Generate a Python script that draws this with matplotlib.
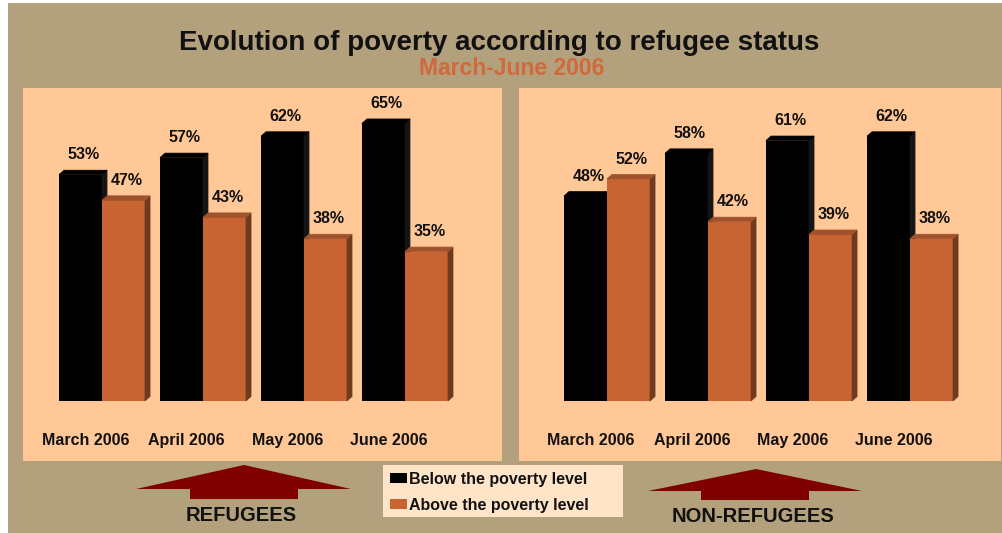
import matplotlib.pyplot as plt
from matplotlib.patches import Polygon, Rectangle

plt.rcParams['font.family'] = ['Liberation Sans', 'DejaVu Sans']
plt.rcParams['font.weight'] = 'bold'

# === Dati ===
months = ["March 2006", "April 2006", "May 2006", "June 2006"]
refugees_below = [53, 57, 62, 65]
refugees_above = [47, 43, 38, 35]
nonref_below = [48, 58, 61, 62]
nonref_above = [52, 42, 39, 38]

TAN = "#B3A07C"
PANEL = "#FFC896"
ORANGE = "#C86432"
ORANGE_TOP = "#A0522D"
ORANGE_SIDE = "#6E3B1E"
DARKRED = "#800000"

W, H = 1002, 533
fig = plt.figure(figsize=(W / 100, H / 100), dpi=100, facecolor="white")


def fx(x):
    return x / W


def fy(y):
    return 1 - y / H


# sfondo marrone chiaro (bordo bianco sopra e a sinistra)
fig.add_artist(Rectangle((fx(8), 0), 1, fy(3), transform=fig.transFigure,
                         facecolor=TAN, edgecolor="none", zorder=0))

fig.text(fx(499), fy(50), "Evolution of poverty according to refugee status",
         ha="center", va="baseline", fontsize=20, color="#111111")
fig.text(fx(512), fy(75), "March-June 2006", ha="center", va="baseline",
         fontsize=16.5, color="#D2693C")

# px per unita' sull'asse y: 4.27 px per %
bar_w = 0.426
dx, dy = 0.05, 1.05


def draw_panel(rect, xlim, below, above):
    x0, y0, x1, y1 = rect
    ax = fig.add_axes([fx(x0), fy(y1), fx(x1 - x0), (y1 - y0) / H])
    ax.set_facecolor(PANEL)
    for s in ax.spines.values():
        s.set_visible(False)
    ax.set_xticks([])
    ax.set_yticks([])
    ax.set_xlim(*xlim)
    ax.set_ylim(-14.05, 73.3)

    for i, (b, a) in enumerate(zip(below, above)):
        for left, v, front, top, side in [
            (i - bar_w, b, "black", "#000000", "#151515"),
            (i, a, ORANGE, ORANGE_TOP, ORANGE_SIDE),
        ]:
            ax.bar(left, v, width=bar_w, align="edge", color=front, zorder=2)
            r = left + bar_w
            ax.add_patch(Polygon([(r, 0), (r + dx, dy), (r + dx, v + dy), (r, v)],
                                 closed=True, facecolor=side, edgecolor=side,
                                 lw=0.5, zorder=2))
            ax.add_patch(Polygon([(left, v), (left + dx, v + dy), (r + dx, v + dy), (r, v)],
                                 closed=True, facecolor=top, edgecolor=top,
                                 lw=0.5, zorder=2))
            ax.text(left + bar_w / 2 + 0.03, v + 3.6, f"{v}%", ha="center",
                    va="baseline", fontsize=11.5, color="#111111", zorder=3)
        ax.text(i - 0.16, -10.3, months[i], ha="center", va="baseline",
                fontsize=11.5, color="#111111")
    return ax


draw_panel((23, 88, 502, 461), (-0.782, 3.961), refugees_below, refugees_above)
draw_panel((519, 88, 1001, 461), (-0.871, 3.901), nonref_below, nonref_above)


# === Frecce ===
def arrow(pts):
    fig.add_artist(Polygon([(fx(x), fy(y)) for x, y in pts], closed=True,
                           transform=fig.transFigure, facecolor=DARKRED,
                           edgecolor="none", zorder=1))


arrow([(136, 489), (244, 465), (351, 489), (298, 489), (298, 499), (190, 499), (190, 489)])
arrow([(648, 491), (756, 469), (862, 491), (809, 491), (809, 500), (701, 500), (701, 491)])
fig.text(fx(241), fy(521), "REFUGEES", ha="center", va="baseline",
         fontsize=14.5, color="#111111")
fig.text(fx(753), fy(522), "NON-REFUGEES", ha="center", va="baseline",
         fontsize=14.5, color="#111111")

# === Legenda ===
fig.add_artist(Rectangle((fx(383), fy(517)), fx(240), 52 / H, transform=fig.transFigure,
                         facecolor="#FFE4C8", edgecolor="none", zorder=1))
for yb, col, lab in [(484, "black", "Below the poverty level"),
                     (510, ORANGE, "Above the poverty level")]:
    fig.add_artist(Rectangle((fx(390), fy(yb - 1)), fx(17), 10 / H,
                             transform=fig.transFigure, facecolor=col,
                             edgecolor="none", zorder=2))
    fig.text(fx(409), fy(yb), lab, ha="left", va="baseline", fontsize=11.5,
             color="#111111")

fig.savefig("out.png", dpi=100, facecolor=fig.get_facecolor())
